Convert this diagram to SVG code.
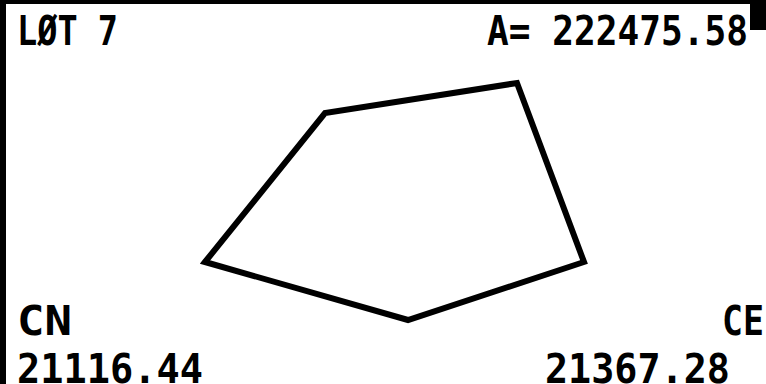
<svg xmlns="http://www.w3.org/2000/svg" width="766" height="384" viewBox="0 0 766 384">
<style>
.t{font-family:"DejaVu Sans Mono","Liberation Mono",monospace;font-weight:bold;font-size:41px;fill:#000}
.lot{fill:none;stroke:#000;stroke-width:6;stroke-linejoin:miter}
</style>
<rect x="0" y="0" width="766" height="384" fill="#fff"/>
<g id="frame">
<rect x="0" y="0" width="766" height="4" fill="#000"/>
<rect x="0" y="0" width="6" height="384" fill="#000"/>
<rect x="750" y="4" width="16" height="26" fill="#000"/>
</g>
<g id="lot-outline">
<polygon class="lot" points="205,262 325,113 517,83 584,262 408,320"/>
</g>
<g id="labels">
<text id="title" class="t" x="17" y="45" textLength="101" lengthAdjust="spacingAndGlyphs">LØT 7</text>
<text id="area" class="t" x="487" y="45" textLength="261" lengthAdjust="spacingAndGlyphs">A= 222475.58</text>
<text id="cn" class="t" x="17" y="335" textLength="55" lengthAdjust="spacingAndGlyphs">CN</text>
<text id="ce" class="t" x="722" y="335" textLength="42" lengthAdjust="spacingAndGlyphs">CE</text>
<text id="cn-val" class="t" x="17" y="383" textLength="186" lengthAdjust="spacingAndGlyphs">21116.44</text>
<text id="ce-val" class="t" x="545" y="383" textLength="185" lengthAdjust="spacingAndGlyphs">21367.28</text>
</g>
</svg>
